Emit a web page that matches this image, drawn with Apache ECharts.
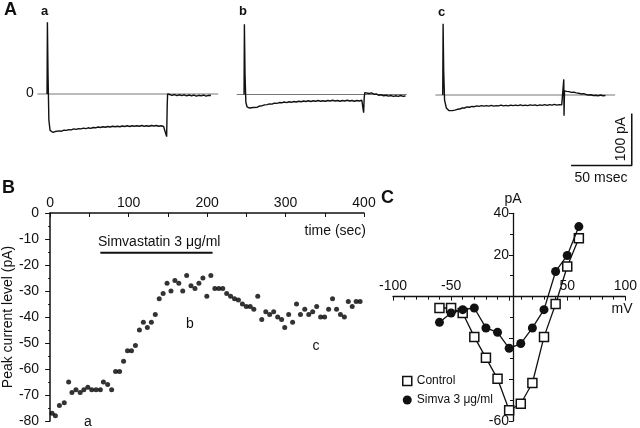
<!DOCTYPE html>
<html>
<head>
<meta charset="utf-8">
<script src="https://cdn.jsdelivr.net/npm/echarts@6/dist/echarts.min.js"></script>
<style>html,body{margin:0;padding:0;background:#fff}#c{width:640px;height:428px}</style>
</head>
<body>
<div id="c"></div>
<script>
// ---------- Panel A: current traces [time (ms), current (pA)] ----------
const traceA = [[0,0],[0.3,138],[0.8,40],[1.5,-50],[2.5,-70],[4,-73],[5,-74],[6,-73.5],[7,-72],[8,-73],[10,-71],[12,-71.5],[14,-69.5],[16,-70],[18,-68.5],[20,-69],[22,-67],[24,-68],[26,-66.5],[28,-67],[30,-65.5],[32,-66.5],[34,-65],[36,-66],[38,-64.5],[40,-65],[42,-63.5],[44,-64.5],[46,-63],[48,-64],[50,-62.5],[52,-63.5],[54,-62],[56,-63],[58,-62],[60,-63],[62,-61.5],[64,-62.5],[66,-61],[68,-62.5],[70,-61],[72,-62],[74,-61],[76,-62],[78,-60.5],[80,-62],[82,-61],[84,-62],[86,-60.5],[88,-61.5],[90,-60.5],[92,-62],[94,-61],[96,-62.5],[97.5,-60],[98.5,-82],[99,-20],[99.3,0],[101,-1],[103,-2.5],[105,-1],[107,-3],[109,-1.5],[111,-3],[113,-1.5],[115,-3.5],[117,-2],[119,-3.5],[121,-2],[123,-4],[125,-2.5],[127,-3.5],[129,-2],[131,-4],[133,-2.5],[135,-3]];
const traceB = [[0,0],[0.3,135],[0.8,40],[1.5,-15],[2.5,-24],[4.5,-26],[6,-26.5],[7.5,-25],[9,-24],[11,-24.5],[13,-22],[15,-21.5],[17,-20],[19,-19.5],[21,-18],[23,-18.5],[25,-16.5],[27,-17],[29,-15.5],[31,-16],[33,-14.5],[35,-15.5],[37,-14],[39,-15],[41,-13.5],[43,-14.5],[45,-13],[47,-14],[49,-12.5],[51,-13.5],[53,-12],[55,-13.5],[57,-12],[59,-13],[61,-11.5],[63,-13],[65,-12],[67,-13],[69,-11.5],[71,-12.5],[73,-11],[75,-12.5],[77,-11.5],[79,-13],[81,-11.5],[83,-12.5],[85,-11],[87,-12.5],[89,-11.5],[91,-13],[93,-11.5],[95,-12.5],[97,-11],[98.2,-12],[98.5,-35],[99,-5],[99.5,3.5],[101,4],[103,2],[105,3],[107,0.5],[109,1],[111,-1.5],[113,-0.5],[115,-2.5],[117,-1.5],[119,-3],[121,-2],[123,-3.5],[125,-2.5],[127,-3.5],[129,-2],[131,-3.5],[133,-3]];
const traceC = [[0,0],[0.3,137],[0.8,45],[1.5,-10],[3,-25],[5,-30],[6.5,-31],[8,-30],[10,-29],[12,-27.5],[14,-27],[16,-25],[18,-25],[20,-23],[22,-23.5],[24,-22],[26,-22.5],[28,-21],[30,-22],[32,-20.5],[34,-21.5],[36,-20.5],[38,-21.5],[40,-20],[42,-21.5],[44,-20.5],[46,-21],[48,-19.5],[50,-21],[52,-20],[54,-21],[56,-19.5],[58,-20.5],[60,-19.5],[62,-20.5],[64,-19],[66,-20.5],[68,-19.5],[70,-20.5],[72,-19],[74,-20],[76,-19],[78,-20.5],[80,-19],[82,-20],[84,-18.5],[86,-20],[88,-18.5],[90,-19.5],[92,-18],[94,-19.5],[96,-18.5],[98,-19],[99.5,-18],[99.7,30],[99.9,-40],[100.3,8],[102,7],[104,6.5],[106,5],[108,5.5],[110,4],[112,3.5],[114,2],[116,2.5],[118,1],[120,0],[122,0.5],[124,-1],[126,-0.5],[128,-1.5],[130,0],[132,-1.5],[134,-1]];
const baselineA = [[-8,0],[141,0]];
const baselineB = [[-6,0],[134,0]];
const baselineC = [[-6,0],[142,0]];
const scaleBar = [[105.7,-135.6],[155.7,-135.6],[155.7,-35.6]]; // 50 ms, 100 pA

// ---------- Panel B: peak current vs time ----------
const timeSec = [2.5,6.7,11.8,18,23.6,27.8,32.9,38.3,43,48,53,58.5,64,67.9,73.3,78.4,83.4,88.5,93.6,98.6,103.7,108.7,113.8,118.8,123.9,129,134,139,144,149,154,159,164,169,174,179.5,184.6,189.6,194.7,199.7,204.8,209.9,215,220,225,230,235,240,245,250,255,259.6,264.6,269.7,274.8,279.8,284.9,290,295,299,304,309,314,319,324.5,329.6,334.6,339.7,344.7,349.8,354.9,359.9,365,370,375,380,385,390,395];
const peakCurrent = [-77,-78,-74,-73,-65,-69,-68,-69,-68,-67,-68,-68,-68,-65,-66,-68,-61,-61,-57,-53,-53,-51,-45,-42,-44,-42,-39,-33,-31,-27,-30,-26,-27,-30,-24,-28,-29,-27,-25,-32,-24,-29,-29,-29,-31,-32,-33,-33.5,-35,-36,-36,-37,-32,-41,-38,-39,-38,-40,-41,-44,-39,-42,-35,-39,-37,-39,-38,-36,-40,-40,-37,-33,-37,-39,-40,-34,-36,-34,-34];
const drugPeriod = [64, 207];
const drugBarLevel = -15.3;

// ---------- Panel C: I-V relation ----------
const voltages = [-60,-50,-40,-30,-20,-10,0,10,20,30,40,50,60];
const controlIV = [-5.6,-5.6,-8,-19.5,-29.6,-39.7,-54.8,-51.7,-41.7,-19.5,-3.7,14.4,28];
const simvaIV = [-12.5,-8,-6.4,-5.6,-15.2,-17.3,-25,-22.7,-15.2,-6.4,12,19.7,33.6];

const FONT = 'Liberation Sans, Arial, Helvetica, sans-serif';
const chart = echarts.init(document.getElementById('c'), null, {renderer:'canvas'});

function hiddenAx(min, max, gi){ return {type:'value', gridIndex:gi, min:min, max:max, show:false}; }

const bX = timeSec.map((t,i)=>[t, peakCurrent[i]]);

// Panel C grid geometry (axes cross at the origin)
const cLeft = 393, cTop = 213.3, cW = 240, cH = 208.4;
const cXmin = -100, cXmax = 100, cYmin = -60, cYmax = 40;
const xZeroOffset = -(cH * cYmax / (cYmax - cYmin));
const yZeroOffset = -(cW * (0 - cXmin) / (cXmax - cXmin));

const option = {
  animation:false,
  backgroundColor:'#fff',
  textStyle:{fontFamily:FONT},
  grid:[
    {left:34.9, top:16, width:206.4, height:156},
    {left:231.9, top:16.5, width:206.4, height:156},
    {left:430.6, top:17, width:206.4, height:156},
    {left:47, top:213, width:317, height:208},
    {left:cLeft, top:cTop, width:cW, height:cH}
  ],
  xAxis:[
    hiddenAx(-10,160,0), hiddenAx(-10,160,1), hiddenAx(-10,160,2),
    {type:'value', gridIndex:3, position:'top', min:0, max:400, interval:100,
     axisLine:{show:true, onZero:false, lineStyle:{color:'#111', width:1.5}},
     axisTick:{show:true, inside:true, length:4, lineStyle:{color:'#111'}},
     minorTick:{show:true, splitNumber:2, length:4, lineStyle:{color:'#111'}},
     splitLine:{show:false},
     axisLabel:{fontSize:14, color:'#111', margin:3, fontFamily:FONT}},
    {type:'value', gridIndex:4, position:'top', min:cXmin, max:cXmax, interval:50, offset:xZeroOffset,
     axisLine:{show:true, onZero:false, lineStyle:{color:'#111', width:1.3}},
     axisTick:{show:true, inside:true, length:4, lineStyle:{color:'#111'}},
     minorTick:{show:true, splitNumber:5, length:3, lineStyle:{color:'#111'}},
     splitLine:{show:false},
     axisLabel:{fontSize:14, color:'#111', margin:4, fontFamily:FONT, formatter:v=> v===0?'':String(v)}}
  ],
  yAxis:[
    hiddenAx(-150,150,0), hiddenAx(-150,150,1), hiddenAx(-150,150,2),
    {type:'value', gridIndex:3, min:-80, max:0, interval:10,
     name:'Peak current level (pA)', nameLocation:'middle', nameGap:34, nameRotate:90,
     nameTextStyle:{fontSize:14, color:'#111', fontFamily:FONT},
     axisLine:{show:true, onZero:false, lineStyle:{color:'#111', width:1.5}},
     axisTick:{show:true, length:5, lineStyle:{color:'#111'}},
     minorTick:{show:true, splitNumber:2, length:2, lineStyle:{color:'#111'}},
     splitLine:{show:false},
     axisLabel:{fontSize:14, color:'#111', margin:11, fontFamily:FONT}},
    {type:'value', gridIndex:4, min:cYmin, max:cYmax, interval:20, offset:yZeroOffset,
     axisLine:{show:true, onZero:false, lineStyle:{color:'#111', width:1.3}},
     axisTick:{show:true, length:4, lineStyle:{color:'#111'}},
     minorTick:{show:true, splitNumber:2, length:3, lineStyle:{color:'#111'}},
     splitLine:{show:false},
     axisLabel:{fontSize:14, color:'#111', margin:4, fontFamily:FONT,
       formatter:v=> (v===40||v===20||v===-60)?String(v):''}}
  ],
  legend:{
    left:397, top:370, orient:'vertical', itemWidth:9, itemHeight:9, itemGap:7,
    textStyle:{fontSize:12, color:'#111', fontFamily:FONT},
    data:[
      {name:'Control', icon:'rect', itemStyle:{color:'#fff', borderColor:'#111', borderWidth:1.5}},
      {name:'Simva 3 μg/ml', icon:'circle', itemStyle:{color:'#111', borderWidth:0}}
    ]
  },
  series:[
    {type:'line', xAxisIndex:0, yAxisIndex:0, data:baselineA, showSymbol:false, silent:true, lineStyle:{color:'#777', width:1}},
    {type:'line', xAxisIndex:1, yAxisIndex:1, data:baselineB, showSymbol:false, silent:true, lineStyle:{color:'#777', width:1}},
    {type:'line', xAxisIndex:2, yAxisIndex:2, data:baselineC, showSymbol:false, silent:true, lineStyle:{color:'#777', width:1}},
    {type:'line', xAxisIndex:0, yAxisIndex:0, data:traceA, showSymbol:false, lineStyle:{color:'#111', width:1.4}},
    {type:'line', xAxisIndex:1, yAxisIndex:1, data:traceB, showSymbol:false, lineStyle:{color:'#111', width:1.4}},
    {type:'line', xAxisIndex:2, yAxisIndex:2, data:traceC, showSymbol:false, lineStyle:{color:'#111', width:1.4}},
    {type:'line', xAxisIndex:2, yAxisIndex:2, data:scaleBar, showSymbol:false, lineStyle:{color:'#111', width:1.5}},
    {type:'scatter', xAxisIndex:3, yAxisIndex:3, data:bX, symbol:'circle', symbolSize:5, itemStyle:{color:'#000'}},
    {type:'line', xAxisIndex:3, yAxisIndex:3, data:[[drugPeriod[0],drugBarLevel],[drugPeriod[1],drugBarLevel]], showSymbol:false, lineStyle:{color:'#111', width:2}},
    {name:'Control', type:'line', xAxisIndex:4, yAxisIndex:4, data:voltages.map((v,i)=>[v,controlIV[i]]),
     symbol:'rect', symbolSize:9, showSymbol:true, z:3,
     lineStyle:{color:'#111', width:1.3}, itemStyle:{color:'#fff', borderColor:'#111', borderWidth:1.5}},
    {name:'Simva 3 μg/ml', type:'line', xAxisIndex:4, yAxisIndex:4, data:voltages.map((v,i)=>[v,simvaIV[i]]),
     symbol:'circle', symbolSize:9, showSymbol:true, z:4,
     lineStyle:{color:'#111', width:1.3}, itemStyle:{color:'#111', borderWidth:0}}
  ],
  graphic:[
    {type:'text', left:4, top:1, style:{text:'A', font:'bold 18px '+FONT, fill:'#111'}},
    {type:'text', left:41, top:5, style:{text:'a', font:'bold 13px '+FONT, fill:'#111'}},
    {type:'text', left:239, top:5, style:{text:'b', font:'bold 13px '+FONT, fill:'#111'}},
    {type:'text', left:438, top:6, style:{text:'c', font:'bold 13px '+FONT, fill:'#111'}},
    {type:'text', left:26, top:86, style:{text:'0', font:'14px '+FONT, fill:'#111'}},
    {type:'text', x:621, y:139, rotation:Math.PI/2, style:{text:'100 pA', font:'14px '+FONT, fill:'#111', align:'center', verticalAlign:'middle'}},
    {type:'text', x:601, y:178, style:{text:'50 msec', font:'14px '+FONT, fill:'#111', align:'center', verticalAlign:'middle'}},
    {type:'text', left:2, top:179, style:{text:'B', font:'bold 18px '+FONT, fill:'#111'}},
    {type:'text', x:366, y:231, style:{text:'time (sec)', font:'14px '+FONT, fill:'#111', align:'right', verticalAlign:'middle'}},
    {type:'text', x:98, y:242, style:{text:'Simvastatin 3 μg/ml', font:'14px '+FONT, fill:'#111', align:'left', verticalAlign:'middle'}},
    {type:'text', x:88, y:422, style:{text:'a', font:'14px '+FONT, fill:'#111', align:'center', verticalAlign:'middle'}},
    {type:'text', x:190, y:324, style:{text:'b', font:'14px '+FONT, fill:'#111', align:'center', verticalAlign:'middle'}},
    {type:'text', x:316, y:346, style:{text:'c', font:'14px '+FONT, fill:'#111', align:'center', verticalAlign:'middle'}},
    {type:'text', left:381, top:189, style:{text:'C', font:'bold 18px '+FONT, fill:'#111'}},
    {type:'text', x:513, y:199, style:{text:'pA', font:'14px '+FONT, fill:'#111', align:'center', verticalAlign:'middle'}},
    {type:'text', x:622, y:309, style:{text:'mV', font:'14px '+FONT, fill:'#111', align:'center', verticalAlign:'middle'}}
  ]
};
chart.setOption(option);
</script>
</body>
</html>
